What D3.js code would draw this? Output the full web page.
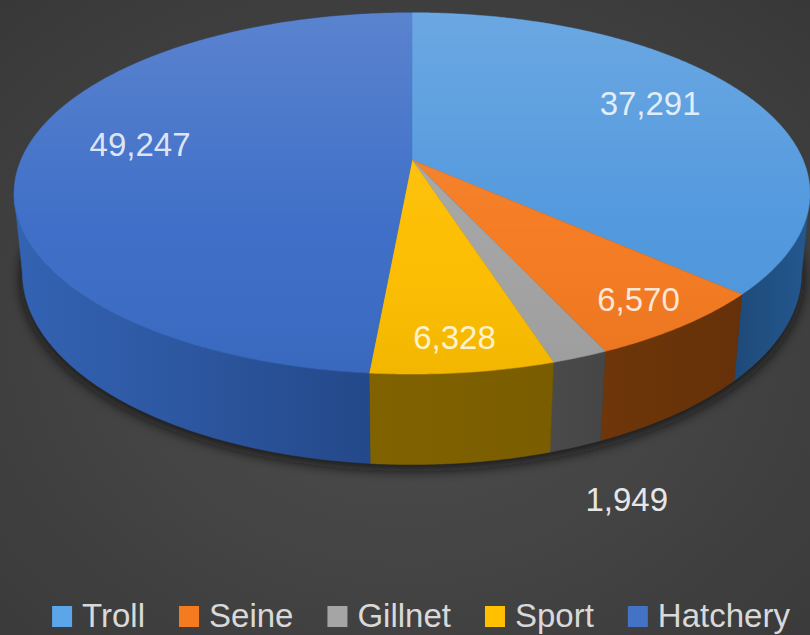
<!DOCTYPE html>
<html>
<head>
<meta charset="utf-8">
<script src="https://cdn.jsdelivr.net/npm/d3@7"></script>
<style>
  html, body { margin: 0; padding: 0; background: #404040; }
  svg { display: block; }
  text { font-family: "Liberation Sans", Arial, sans-serif; }
</style>
</head>
<body>
<script>
// data
const categories = ['Troll', 'Seine', 'Gillnet', 'Sport', 'Hatchery'];
const values = [37291, 6570, 1949, 6328, 49247];

const topColors = ['#4f97dd', '#f47a20', '#a3a3a3', '#fdbe00', '#3b6cc6'];
// wall colours, left end / right end
const sideLeft = ['#1e4a78', '#6e3609', '#4a4a4a', '#806200', '#3463b4'];
const sideRight = ['#245890', '#66310a', '#464646', '#7a5d00', '#24498a'];
const legendColors = ['#5ba6e8', '#f57b20', '#a5a5a5', '#ffc000', '#4472c4'];

const width = 810, height = 635;

let svg = d3.select('body')
  .append('svg')
  .attr('width', width)
  .attr('height', height);

const defs = svg.append('defs');

let bg = defs.append('radialGradient').attr('id', 'bg')
  .attr('cx', '50%').attr('cy', '55%').attr('r', '75%');
bg.append('stop').attr('offset', '0%').attr('stop-color', '#4e4e4e');
bg.append('stop').attr('offset', '100%').attr('stop-color', '#383838');

svg.append('rect').attr('width', width).attr('height', height).attr('fill', 'url(#bg)');

// simple perspective camera for the 3d disc
const cx = 412, cy = 160;
const D = 1, R = 0.2064, H = 0.0473;
const tilt = 26.5 * Math.PI / 180;
const ca = Math.cos(tilt), sa = Math.sin(tilt);
const f = 1895;

const project = (theta, rho, bottom) => {
  let X = R * rho * Math.sin(theta);
  let Z = R * rho * Math.cos(theta);
  let Y = bottom ? -H : 0;
  let yc = Y * ca + Z * sa;
  let zc = D + Z * ca - Y * sa;
  return [cx + f * X / zc, cy - f * yc / zc];
};

const arcPoints = (a, b, rho, bottom) => {
  let n = Math.max(2, Math.ceil(Math.abs(b - a) / 0.01));
  return d3.range(n + 1).map((i) => project(a + (b - a) * i / n, rho, bottom));
};

const line = d3.line();

const pie = d3.pie().sort(null).value((d) => d)(values);
const color = d3.scaleOrdinal().domain(categories).range(topColors);

// visible part of the outer wall (tangent points of the rim)
const u = R * ca / D;
const tL = Math.acos(-u), tR = 2 * Math.PI - tL;

// shadow under the disc
let blur = defs.append('filter').attr('id', 'blur')
  .attr('x', '-20%').attr('y', '-20%').attr('width', '140%').attr('height', '140%');
blur.append('feGaussianBlur').attr('stdDeviation', 6);

svg.append('path')
  .attr('d', line(arcPoints(0, 2 * Math.PI, 1.005, true)) + 'Z')
  .attr('transform', 'translate(0,5)')
  .attr('fill', '#111')
  .attr('opacity', 0.75)
  .attr('filter', 'url(#blur)');

let g = svg.append('g');

// walls
pie.forEach((d, i) => {
  let a = Math.max(d.startAngle, tL), b = Math.min(d.endAngle, tR);
  if (a >= b) return;
  let pts = arcPoints(a, b, 1, false).concat(arcPoints(b, a, 1, true));
  let xs = d3.extent(pts, (p) => p[0]);
  let grad = defs.append('linearGradient').attr('id', 'wall' + i)
    .attr('gradientUnits', 'userSpaceOnUse')
    .attr('x1', xs[0]).attr('x2', xs[1]).attr('y1', 0).attr('y2', 0);
  grad.append('stop').attr('offset', 0).attr('stop-color', sideLeft[i]);
  grad.append('stop').attr('offset', 1).attr('stop-color', sideRight[i]);
  g.append('path')
    .attr('class', 'wall')
    .attr('d', line(pts) + 'Z')
    .attr('fill', `url(#wall${i})`)
    .attr('stroke', `url(#wall${i})`)
    .attr('stroke-width', 0.5);
});

// tops
pie.forEach((d, i) => {
  let pts = [project(0, 0, false)].concat(arcPoints(d.startAngle, d.endAngle, 1, false));
  g.append('path')
    .attr('class', 'top')
    .attr('d', line(pts) + 'Z')
    .attr('fill', color(categories[i]))
    .attr('stroke', color(categories[i]))
    .attr('stroke-width', 0.5);
});

let topShade = defs.append('linearGradient').attr('id', 'topShade')
  .attr('x1', 0).attr('x2', 0).attr('y1', 0).attr('y2', 1);
topShade.append('stop').attr('offset', 0).attr('stop-color', '#fff').attr('stop-opacity', 0.16);
topShade.append('stop').attr('offset', 0.6).attr('stop-color', '#fff').attr('stop-opacity', 0.02);
topShade.append('stop').attr('offset', 1).attr('stop-color', '#000').attr('stop-opacity', 0.04);
g.append('path')
  .attr('d', line(arcPoints(0, 2 * Math.PI, 1, false)) + 'Z')
  .attr('fill', 'url(#topShade)');

// data labels
const fmt = d3.format(',');
pie.forEach((d, i) => {
  let mid = (d.startAngle + d.endAngle) / 2;
  let share = (d.endAngle - d.startAngle) / (2 * Math.PI);
  let p, dx = 0, dy = 0;
  if (share < 0.03) { p = project(mid, 1.2, true); dx = 10; }
  else if (share < 0.1) p = project(mid, 0.86, false);
  else { p = project(mid, 0.7, false); dy = -10; }
  svg.append('text')
    .attr('x', p[0] + dx)
    .attr('y', p[1] + dy)
    .attr('dy', '0.35em')
    .attr('text-anchor', 'middle')
    .attr('font-size', 33)
    .attr('fill', share < 0.03 ? '#e6e6e6' : '#fff')
    .attr('fill-opacity', share < 0.03 ? 1 : 0.82)
    .text(fmt(values[i]));
});

// legend
let legend = svg.append('g');
let items = categories.map((c, i) => {
  let it = legend.append('g');
  it.append('rect')
    .attr('width', 20).attr('height', 21)
    .attr('y', -21)
    .attr('fill', legendColors[i]);
  let t = it.append('text')
    .attr('x', 30)
    .attr('font-size', 33)
    .attr('fill', '#d9d9d9')
    .text(c);
  return { it: it, w: 30 + t.node().getComputedTextLength() };
});
let total = d3.sum(items, (d) => d.w) + 34 * (items.length - 1);
let x = 421 - total / 2;
items.forEach((d) => {
  d.it.attr('transform', `translate(${x}, 627)`);
  x += d.w + 34;
});
</script>
</body>
</html>
